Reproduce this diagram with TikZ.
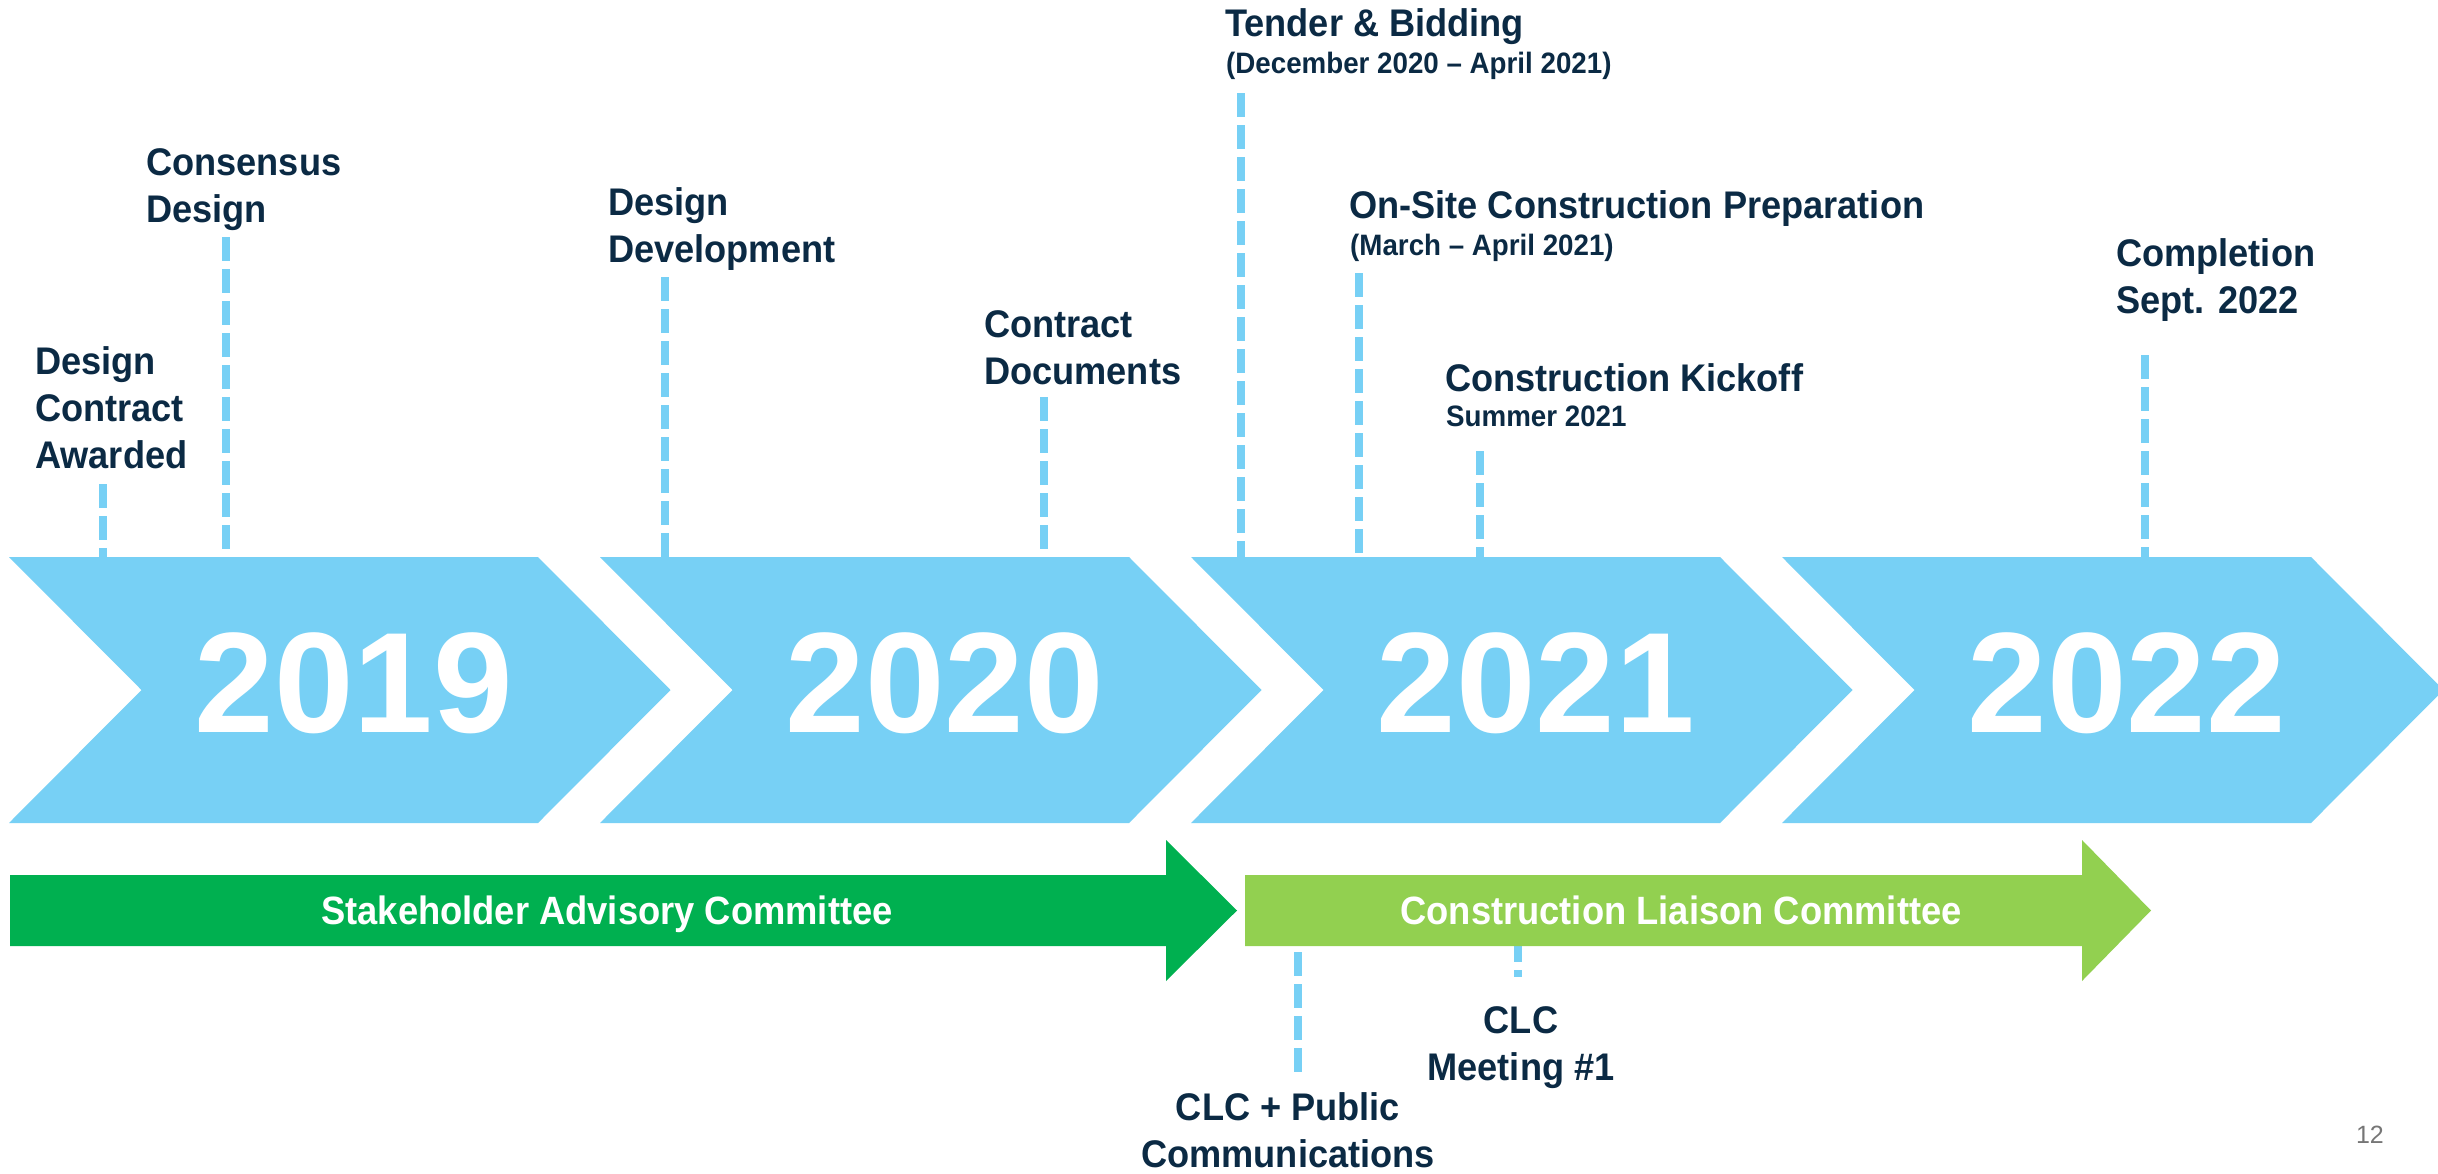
\documentclass[tikz,border=0pt]{standalone}
\usepackage{fontspec}
\setmainfont{Liberation Sans}
\newfontfamily\labfont[FakeStretch=0.94]{Liberation Sans}
\newfontfamily\cmtfont[FakeStretch=0.92]{Liberation Sans}
\newfontfamily\yearfont{Liberation Sans}
\definecolor{navy}{HTML}{0B2A44}
\definecolor{chev}{HTML}{77D0F5}
\definecolor{dgreen}{HTML}{00B050}
\definecolor{lgreen}{HTML}{92D050}
\definecolor{pgnum}{HTML}{767676}
\tikzset{
  chevron/.style={fill=chev, draw=none},
  dashln/.style={draw=chev, line width=8pt, dash pattern=on 24pt off 8pt},
  lab/.style={text=navy, font=\labfont\bfseries\fontsize{38.5}{46.7}\selectfont, inner sep=0pt, anchor=base west, align=left},
  clab/.style={lab, anchor=base, align=center},
  sub/.style={text=navy, font=\labfont\bfseries\fontsize{29.5}{34}\selectfont, inner sep=0pt, anchor=base west},
  year/.style={text=white, font=\yearfont\bfseries\fontsize{143}{150}\selectfont, inner sep=0pt, anchor=base},
  cmt/.style={text=white, font=\cmtfont\bfseries\fontsize{39.5}{46}\selectfont, inner sep=0pt, anchor=base},
}
\begin{document}
\begin{tikzpicture}[x=1pt,y=-1pt]
\useasboundingbox (0,0) rectangle (2438,1173);
\fill[white] (0,0) rectangle (2438,1173);

% chevrons
\foreach \k/\yr in {0/2019,1/2020,2/2021,3/2022}{
  \pgfmathsetmacro{\L}{9+591*\k}
  \fill[chevron] (\L,557) -- ++(529,0) -- ++(132.5,133) -- ++(-132.5,133) -- ++(-529,0) -- ++(132.5,-133) -- cycle;
  \coordinate (top\yr) at (\L,557);
  \node[year] (y\yr) at (\L+345,732) {\yr};
}

% top labels (multi-line nodes are placed by the baseline of their last line)
\node[lab] (dca) at (35,468) {Design\\Contract\\Awarded};
\node[lab] (cd) at (146,222) {Consensus\\Design};
\node[lab] (dd) at (608,262) {Design\\Development};
\node[lab] (cdoc) at (984,384) {Contract\\Documents};
\node[lab] (tb) at (1225,36.7) {Tender \& Bidding};
\node[sub] (tbs) at (1226,73) {(December 2020 – April 2021)};
\node[lab] (osc) at (1349,218) {On-Site Construction Preparation};
\node[sub] (oscs) at (1350,255) {(March – April 2021)};
\node[lab] (ck) at (1445,391.7) {Construction Kickoff};
\node[sub] (cks) at (1446,426.7) {Summer 2021};
\node[lab] (comp) at (2116,313) {Completion\\Sept. 2022};

% dashed connectors to the chevrons
\coordinate (a1) at (103,484);
\coordinate (a2) at (226,237);
\coordinate (a3) at (665,277);
\coordinate (a4) at (1044,397);
\coordinate (a5) at (1241,93);
\coordinate (a6) at (1359,273);
\coordinate (a7) at (1480,451);
\coordinate (a8) at (2145,355);
\draw[dashln] (a1) -- (a1 |- top2019);
\draw[dashln] (a2) -- (a2 |- top2019);
\draw[dashln] (a3) -- (a3 |- top2020);
\draw[dashln] (a4) -- (a4 |- top2020);
\draw[dashln] (a5) -- (a5 |- top2021);
\draw[dashln] (a6) -- (a6 |- top2021);
\draw[dashln] (a7) -- (a7 |- top2021);
\draw[dashln] (a8) -- (a8 |- top2022);

% bottom connectors
\coordinate (b1) at (1297.5,952);
\coordinate (b1e) at (1297.5,1072);
\coordinate (b2) at (1517.5,938);
\coordinate (b2e) at (1517.5,977);
\draw[dashln] (b1) -- (b1e);
\draw[dashln] (b2) -- (b2e);

% committee arrows
\fill[dgreen] (10,875) -- (1166,875) -- (1166,840) -- (1237,910.5) -- (1166,981) -- (1166,946) -- (10,946) -- cycle;
\fill[lgreen] (1245,875) -- (2082,875) -- (2082,840) -- (2151,910.5) -- (2082,981) -- (2082,946) -- (1245,946) -- cycle;
\node[cmt] (sac) at (607,924.5) {Stakeholder Advisory Committee};
\node[cmt] (clc) at (1681,924.5) {Construction Liaison Committee};

% bottom labels
\node[clab] (clcm) at (1521,1080) {CLC\\Meeting \#1};
\node[clab] (clcp) at (1288,1167) {CLC + Public\\Communications};

% page number
\node[text=pgnum, font=\yearfont\fontsize{25}{30}\selectfont, inner sep=0pt, anchor=base east] (pg) at (2384,1143) {12};
\end{tikzpicture}
\end{document}
